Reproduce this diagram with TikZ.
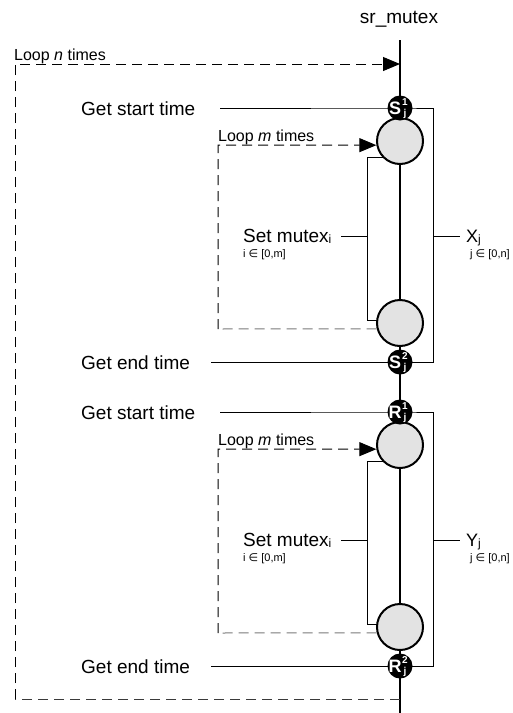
\documentclass[tikz,border=0pt]{standalone}
\usepackage{fontspec}
\setmainfont{Liberation Sans}
\newfontfamily\symfont{DejaVu Sans}
\usetikzlibrary{arrows.meta}
\pgfdeclarelayer{background}
\pgfsetlayers{background,main}
\definecolor{stagefill}{HTML}{E3E3E3}
\definecolor{dashgray}{HTML}{7A7A7A}
\definecolor{dashdark}{HTML}{3A3A3A}
% small lowered index used in the labels
\newcommand{\lowidx}[1]{{\fontsize{12}{12}\selectfont\raisebox{-1.5pt}{#1}}}

\begin{document}
\begin{tikzpicture}[x=1pt,y=-1pt,
  spine/.style={line width=2pt},
  wire/.style={line width=0.9pt},
  loopdash/.style={line width=1pt, dash pattern=on 10pt off 6pt},
  looptip/.style={-{Triangle[length=17pt,width=14pt]}},
  stage/.style={circle, draw, line width=2pt, fill=stagefill, minimum size=46pt, inner sep=0pt},
  stamp/.style={circle, fill=black, minimum size=25pt, inner sep=0pt},
  stampletter/.style={text=white, font=\fontsize{18}{18}\selectfont\bfseries, inner sep=0pt},
  stampidx/.style={text=white, font=\fontsize{10}{10}\selectfont\bfseries, inner sep=0pt},
  big/.style={font=\fontsize{19}{22}\selectfont, inner sep=0pt},
  mid/.style={font=\fontsize{18}{20}\selectfont, inner sep=0pt},
  loopnote/.style={font=\fontsize{16}{18}\selectfont, inner sep=0pt},
  rangenote/.style={font=\fontsize{11}{13}\selectfont, inner sep=0pt},
]
\useasboundingbox (0,0) rectangle (513,713);

% title and the sr_mutex time line
\node[big, anchor=base] (title) at (399,23) {sr\_mutex};
\coordinate (top) at (400,40);
\coordinate (bot) at (400,713);
\begin{pgfonlayer}{background}
  \draw[spine] (top) -- (bot);
\end{pgfonlayer}

% outer loop over n
\coordinate (nIn)  at (400,64);
\coordinate (nOut) at (400,699);
\coordinate (ol1)  at (15,64);
\coordinate (ol2)  at (15,699);
\draw[loopdash, dashdark] (nOut) -- (ol2);
\draw[loopdash, looptip] (ol2) -- (ol1) -- (nIn);
\node[loopnote, anchor=base west] (loopn) at (14,60) {Loop \textit{n} times};

% two measured blocks: S (set) and R (reset)
\foreach \o/\L/\V/\k in {0/S/X/a, 304/R/Y/b} {
  % stages on the time line
  \node[stage] (c1-\k) at (400,141+\o) {};
  \node[stage] (c2-\k) at (400,323+\o) {};
  \node[stamp] (s1-\k) at (400,108+\o) {};
  \node[stamp] (s2-\k) at (400,362+\o) {};
  \node[stampletter] (sl1-\k) at (395,108+\o) {\L};
  \node[stampidx]    (sp1-\k) at (405,102+\o) {1};
  \node[stampidx]    (sb1-\k) at (405,114+\o) {j};
  \node[stampletter] (sl2-\k) at (395,362+\o) {\L};
  \node[stampidx]    (sp2-\k) at (405,356+\o) {2};
  \node[stampidx]    (sb2-\k) at (405,368+\o) {j};

  % labels
  \node[big, anchor=base west] (gst-\k) at (81,115+\o) {Get start time};
  \node[big, anchor=base west] (get-\k) at (81,369+\o) {Get end time};
  \node[big, anchor=base west] (sm-\k) at (243,242+\o) {Set mutex\lowidx{i}};
  \node[rangenote, anchor=base west] (smr-\k) at (243,257+\o) {i {\symfont ∈} [0,m]};
  \node[mid, anchor=base west] (vx-\k) at (466,242+\o) {\V\lowidx{j}};
  \node[rangenote, anchor=base west] (vxr-\k) at (470,257+\o) {j {\symfont ∈} [0,n]};
  \node[loopnote, anchor=base west] (loopm-\k) at (218,141+\o) {Loop \textit{m} times};

  % wire coordinates
  \coordinate (gs-\k)  at (220,108+\o);
  \coordinate (ge-\k)  at (211,362+\o);
  \coordinate (xr1-\k) at (433,108+\o);
  \coordinate (xr2-\k) at (433,362+\o);
  \coordinate (ib1-\k) at (367,157+\o);
  \coordinate (ib2-\k) at (367,320+\o);
  \coordinate (smc-\k) at (341,236+\o);
  \coordinate (xc-\k)  at (460,236+\o);
  \coordinate (il1-\k) at (218,145+\o);
  \coordinate (il2-\k) at (218,329+\o);

  \begin{pgfonlayer}{background}
    % outer bracket: start time to end time
    \draw[wire] (gs-\k) -- (s1-\k.center) -- (xr1-\k) -- (xr2-\k) -- (ge-\k);
    % inner bracket: one set-mutex iteration
    \draw[wire] (c1-\k.center |- ib1-\k) -- (ib1-\k) -- (ib2-\k) -- (c2-\k.center |- ib2-\k);
    \draw[wire] (smc-\k) -- (smc-\k -| ib1-\k);
    \draw[wire] (xc-\k -| xr1-\k) -- (xc-\k);
  \end{pgfonlayer}

  % inner loop over m
  \draw[loopdash, dashgray] (c2-\k.194) -- (il2-\k);
  \draw[loopdash, looptip] (il2-\k) -- (il1-\k) -- (c1-\k.190);
}
\end{tikzpicture}
\end{document}
